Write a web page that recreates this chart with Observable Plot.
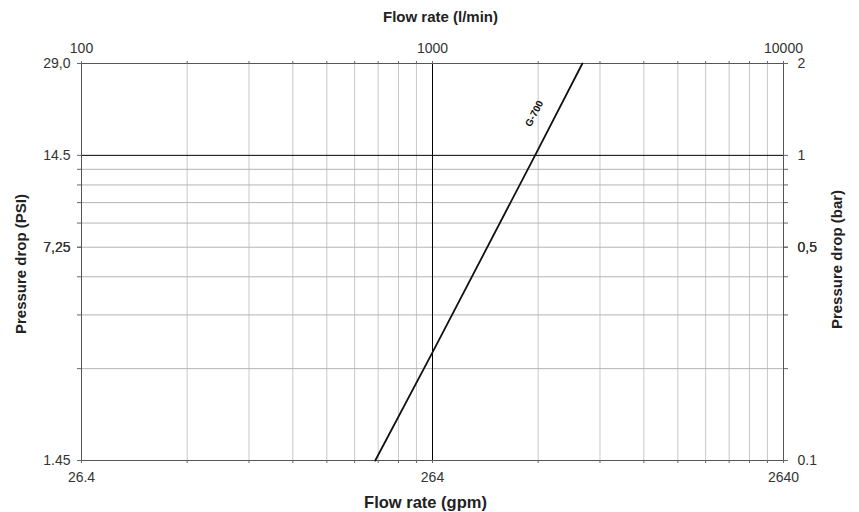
<!DOCTYPE html>
<html>
<head>
<meta charset="utf-8">
<script src="https://cdn.jsdelivr.net/npm/d3@7"></script>
<script src="https://cdn.jsdelivr.net/npm/@observablehq/plot@0.6"></script>
<style>
  html, body { margin: 0; padding: 0; background: #fff; }
  #chart { width: 859px; height: 512px; }
</style>
</head>
<body>
<div id="chart"></div>
<script>
// Curve G-700 (flow in l/min, pressure drop in bar)
const curveFlow = [687, 1000, 1960, 2673];
const curveDrop = [0.1, 0.226, 1, 2];
const curveName = "G-700";

// Gridlines
const xMinor = [200, 300, 400, 500, 600, 700, 800, 900, 2000, 3000, 4000, 5000, 6000, 7000, 8000, 9000];
const xMajor = [1000];
const yMinor = [0.2, 0.3, 0.4, 0.5, 0.6, 0.7, 0.8, 0.9];
const yMajor = [1];

// Tick labels
const xTickValues = [100, 1000, 10000];
const lpmLabels = ["100", "1000", "10000"];
const gpmLabels = ["26.4", "264", "2640"];
const yTickValues = [0.1, 0.5, 1, 2];
const barLabels = ["0.1", "0,5", "1", "2"];
const psiLabels = ["1.45", "7,25", "14.5", "29,0"];

const curve = curveFlow.map((f, i) => ({flow: f, drop: curveDrop[i]}));
const allX = [...xTickValues, ...xMinor];
const allY = [...yTickValues, ...yMinor];

const labelFor = (values, labels) => d => {
  const i = values.findIndex(v => Math.abs(v - d) < 1e-9 * Math.max(1, v));
  return i >= 0 ? labels[i] : "";
};

const font = "Liberation Sans, Arial, Helvetica, sans-serif";
const tickColor = "#333";

const chart = Plot.plot({
  width: 859,
  height: 512,
  marginLeft: 81,
  marginRight: 76,
  marginTop: 63,
  marginBottom: 52,
  style: {fontFamily: font, fontSize: "14px", color: tickColor, background: "#fff"},
  x: {type: "log", domain: [100, 10000]},
  y: {type: "log", domain: [0.1, 2]},
  marks: [
    Plot.ruleX(xMinor, {stroke: "#c8c8c8", strokeWidth: 1}),
    Plot.ruleY(yMinor, {stroke: "#b4b4b4", strokeWidth: 1}),
    Plot.ruleX(xMajor, {stroke: "#000", strokeWidth: 1}),
    Plot.ruleY(yMajor, {stroke: "#000", strokeWidth: 1}),
    Plot.frame({stroke: "#555", strokeWidth: 1}),
    Plot.axisX({anchor: "top", ticks: allX, tickFormat: labelFor(xTickValues, lpmLabels), tickSize: 3, tickPadding: 8, stroke: "#666", fontSize: 14, fill: tickColor, label: null}),
    Plot.axisX({anchor: "bottom", ticks: allX, tickFormat: labelFor(xTickValues, gpmLabels), tickSize: 3, tickPadding: 9, stroke: "#666", fontSize: 14, fill: tickColor, label: null}),
    Plot.axisY({anchor: "left", ticks: allY, tickFormat: labelFor(yTickValues, psiLabels), tickSize: 4, tickPadding: 7, stroke: "#666", fontSize: 14, fill: tickColor, label: null}),
    Plot.axisY({anchor: "right", ticks: allY, tickFormat: labelFor(yTickValues, barLabels), tickSize: 4, tickPadding: 10, stroke: "#666", fontSize: 14, fill: tickColor, label: null}),
    Plot.line(curve, {x: "flow", y: "drop", stroke: "#111", strokeWidth: 1.8}),
    Plot.text([curveName], {x: () => 1950, y: () => 1.37, rotate: -62.5, fontSize: 10, fontWeight: "bold", fill: "#111"}),
    Plot.text(["Flow rate (l/min)"], {frameAnchor: "top", lineAnchor: "middle", textAnchor: "middle", dx: 8, dy: -46, fontWeight: "bold", fontSize: 15, fill: "#222"}),
    Plot.text(["Flow rate (gpm)"], {frameAnchor: "bottom", lineAnchor: "middle", textAnchor: "middle", dx: -7, dy: 42, fontWeight: "bold", fontSize: 16.5, fill: "#222"}),
    Plot.text(["Pressure drop (PSI)"], {frameAnchor: "left", lineAnchor: "middle", textAnchor: "middle", dx: -60, dy: 2, rotate: -90, fontWeight: "bold", fontSize: 15, fill: "#222"}),
    Plot.text(["Pressure drop (bar)"], {frameAnchor: "right", lineAnchor: "middle", textAnchor: "middle", dx: 54, dy: -2.5, rotate: -90, fontWeight: "bold", fontSize: 15, fill: "#222"})
  ]
});
document.getElementById("chart").appendChild(chart);
</script>
</body>
</html>
